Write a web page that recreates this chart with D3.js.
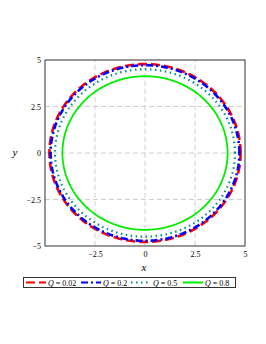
<!DOCTYPE html>
<html><head><meta charset="utf-8">
<script src="https://cdn.jsdelivr.net/npm/d3@7"></script>
<style>body{margin:0;background:#fff}svg{display:block}text{font-family:"Liberation Serif","Times New Roman",serif}</style>
</head><body>
<script>
const qLabels = ["0.02", "0.2", "0.5", "0.8"];
const radii = [4.78, 4.72, 4.5, 4.13];
const colors = ["#ff0000", "#0000ff", "#008b8b", "#00ee00"];
const dashes = ["9,4", "7,3,2,3", "1.5,3.5", null];
const widths = [2.6, 2.6, 2.2, 1.8];
const xTicks = [-2.5, 0, 2.5, 5];
const yTicks = [-5, -2.5, 0, 2.5, 5];
const gridTicks = [-2.5, 0, 2.5];

const W = 266, H = 344;
const svg = d3.select("body").append("svg").attr("width", W).attr("height", H);
const x = d3.scaleLinear().domain([-5, 5]).range([45, 245]);
const y = d3.scaleLinear().domain([-5, 5]).range([246, 60]);

// grid
const g = svg.append("g");
gridTicks.forEach(t => {
  g.append("line").attr("x1", x(t)).attr("x2", x(t)).attr("y1", y(-5)).attr("y2", y(5))
    .attr("stroke", "#d0d0d0").attr("stroke-width", 1).attr("stroke-dasharray", "5,3");
  g.append("line").attr("y1", y(t)).attr("y2", y(t)).attr("x1", x(-5)).attr("x2", x(5))
    .attr("stroke", "#d0d0d0").attr("stroke-width", 1).attr("stroke-dasharray", "5,3");
});

// curves
const angles = d3.range(0, 361, 2).map(a => a * Math.PI / 180);
radii.forEach((r, i) => {
  const line = d3.line().x(a => x(r * Math.cos(a))).y(a => y(r * Math.sin(a)));
  const p = svg.append("path").attr("d", line(angles)).attr("fill", "none")
    .attr("stroke", colors[i]).attr("stroke-width", widths[i]);
  if (dashes[i]) p.attr("stroke-dasharray", dashes[i]);
});

// frame
svg.append("rect").attr("x", x(-5)).attr("y", y(5)).attr("width", x(5) - x(-5)).attr("height", y(-5) - y(5))
  .attr("fill", "none").attr("stroke", "#333").attr("stroke-width", 1);

// axes
const xa = svg.append("g").attr("transform", `translate(0,${y(-5)})`)
  .call(d3.axisBottom(x).tickValues(xTicks).tickSize(0).tickPadding(5).tickFormat(d => d === 0 ? "0" : String(d).replace("-", "\u2212")));
xa.select(".domain").remove();
xa.selectAll("text").attr("font-size", 8).attr("fill", "#000").style("font-family", "Liberation Serif");
const ya = svg.append("g").attr("transform", `translate(${x(-5)},0)`)
  .call(d3.axisLeft(y).tickValues(yTicks).tickSize(0).tickPadding(4).tickFormat(d => d === 0 ? "0" : String(d).replace("-", "\u2212")));
ya.select(".domain").remove();
ya.selectAll("text").attr("font-size", 8).attr("fill", "#000").style("font-family", "Liberation Serif");

svg.append("text").attr("x", 144).attr("y", 271).attr("text-anchor", "middle")
  .attr("font-size", 11).attr("font-style", "italic").text("x");
svg.append("text").attr("x", 15).attr("y", 156).attr("text-anchor", "middle")
  .attr("font-size", 11).attr("font-style", "italic").text("y");

// legend
const lg = svg.append("g");
lg.append("rect").attr("x", 23.5).attr("y", 277.5).attr("width", 212).attr("height", 10)
  .attr("fill", "#fff").attr("stroke", "#333").attr("stroke-width", 1);
const lx = [26, 81, 131, 183];
qLabels.forEach((q, i) => {
  const l = lg.append("line").attr("x1", lx[i]).attr("x2", lx[i] + 20).attr("y1", 282.5).attr("y2", 282.5)
    .attr("stroke", colors[i]).attr("stroke-width", 2);
  if (dashes[i]) l.attr("stroke-dasharray", dashes[i]);
  const t = lg.append("text").attr("x", lx[i] + 22).attr("y", 285.5).attr("font-size", 8);
  t.append("tspan").attr("font-style", "italic").text("Q");
  t.append("tspan").text(" = " + q);
});
</script>
</body></html>
